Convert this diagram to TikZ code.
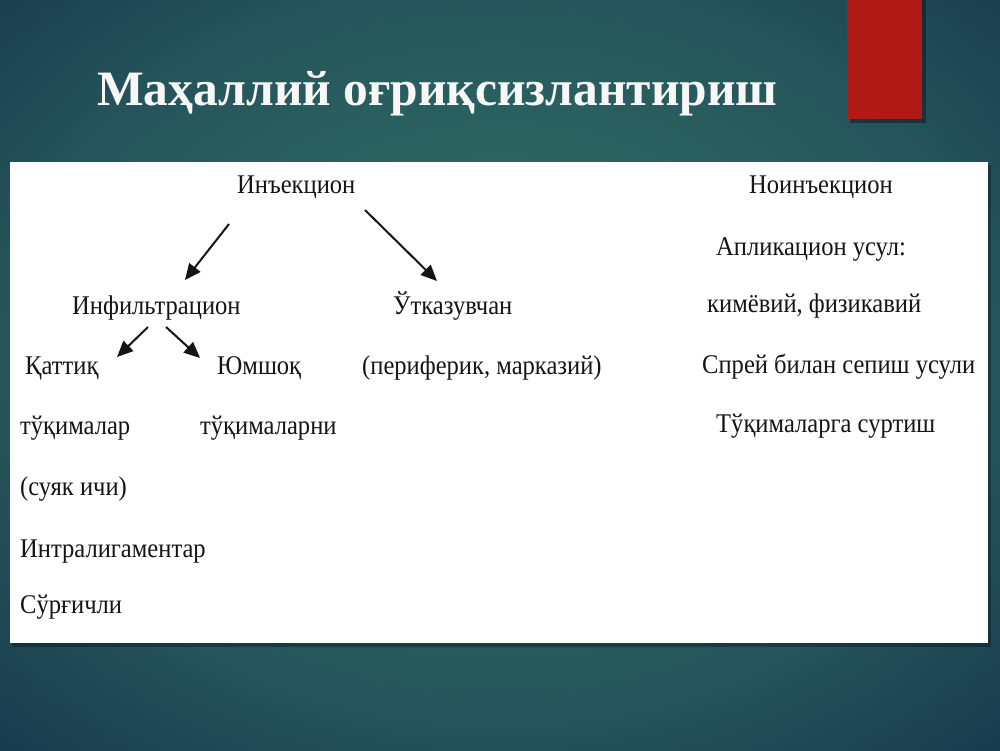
\documentclass[tikz,border=0pt]{standalone}
\usepackage{fontspec}
\setmainfont{Liberation Serif}[FakeStretch=0.91]
\newfontfamily\titlefont{Liberation Serif}
\usetikzlibrary{arrows.meta}
\definecolor{bgin}{HTML}{2F6A64}
\definecolor{bgout}{HTML}{15324A}
\definecolor{redbar}{HTML}{B01A16}
\definecolor{txt}{HTML}{141414}
\pgfdeclareradialshading{slidebg}{\pgfpoint{0bp}{2bp}}{color(0bp)=(bgin); color(10bp)=(bgin!95!bgout); color(25bp)=(bgin!60!bgout); color(40bp)=(bgout); color(100bp)=(bgout)}
\tikzset{
  lbl/.style={anchor=base west, inner sep=0pt, text=txt, font=\fontsize{27}{30}\selectfont},
  arr/.style={line width=2pt, draw=txt, -{Triangle[length=16pt,width=14pt]}},
}
\begin{document}
\begin{tikzpicture}[x=1pt,y=-1pt]
\useasboundingbox (0,0) rectangle (1000,750);
\shade[shading=slidebg] (0,0) rectangle (1000,750);
% red bar with shadow
\fill[black,opacity=0.35] (850,0) rectangle (926,123);
\fill[redbar] (847,0) rectangle (922,119);
% title
\node[anchor=base west, inner sep=0pt, text=white!94!gray, font=\titlefont\fontsize{49.5}{54}\selectfont\bfseries] (title) at (97,105) {Маҳаллий оғриқсизлантириш};
% panel
\fill[black,opacity=0.3] (12,165) rectangle (991,647);
\fill[white] (10,162) rectangle (988,643);
% left tree
\node[lbl] (inj) at (237,193) {Инъекцион};
\node[lbl] (inf) at (72,314) {Инфильтрацион};
\node[lbl] (utk) at (393,314) {Ўтказувчан};
\node[lbl] (qat) at (25,374) {Қаттиқ};
\node[lbl] (yum) at (217,374) {Юмшоқ};
\node[lbl] (per) at (362,374) {(периферик, марказий)};
\node[lbl] (tuk1) at (20,434) {тўқималар};
\node[lbl] (tuk2) at (200,434) {тўқималарни};
\node[lbl] (suy) at (20,495) {(суяк ичи)};
\node[lbl] (int) at (20,557) {Интралигаментар};
\node[lbl] (sur) at (20,613) {Сўрғичли};
% right column
\node[lbl] (noinj) at (749,193) {Ноинъекцион};
\node[lbl] (apl) at (716,255) {Апликацион усул:};
\node[lbl] (kim) at (707,312) {кимёвий, физикавий};
\node[lbl] (spr) at (702,373) {Спрей билан сепиш усули};
\node[lbl] (tuk3) at (716,432) {Тўқималарга суртиш};
% arrow end points
\coordinate (a1s) at (229,224); \coordinate (a1e) at (185,280);
\coordinate (a2s) at (365,210); \coordinate (a2e) at (437,281);
\coordinate (a3s) at (148,327); \coordinate (a3e) at (117,357);
\coordinate (a4s) at (166,327); \coordinate (a4e) at (200,358);
\draw[arr] (a1s) -- (a1e);
\draw[arr] (a2s) -- (a2e);
\draw[arr] (a3s) -- (a3e);
\draw[arr] (a4s) -- (a4e);
\end{tikzpicture}
\end{document}
